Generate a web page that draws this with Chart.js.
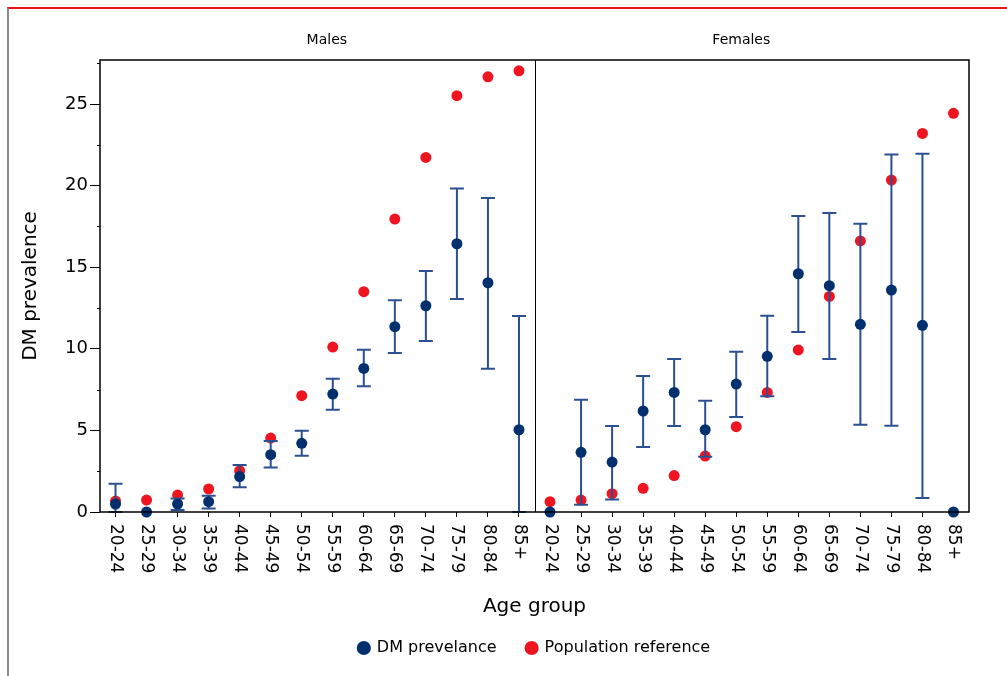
<!DOCTYPE html>
<html lang="en">
<head>
<meta charset="UTF-8">
<title>DM prevalence by age group</title>
<script src="https://cdn.jsdelivr.net/npm/chart.js"></script>
<style>
    body {
        margin: 0;
        background: #fff;
    }
    #wrap {
        position: relative;
        width: 1007px;
        height: 676px;
        overflow: hidden;
    }
    #frame {
        position: absolute;
        left: 7px;
        top: 7px;
        width: 1010px;
        height: 700px;
        border-top: 2px solid #e8121c;
        border-left: 2px solid #8c8c8c;
        pointer-events: none;
    }
    canvas {
        position: absolute;
        left: 0;
        top: 0;
    }
</style>
</head>
<body>
<div id="wrap">
    <canvas id="dmChart" width="1007" height="676"></canvas>
    <div id="frame"></div>
</div>

<script>
// age groups, same for both panels
var ageGroups = ['20-24', '25-29', '30-34', '35-39', '40-44', '45-49', '50-54',
                 '55-59', '60-64', '65-69', '70-74', '75-79', '80-84', '85+'];
var panelTitles = ['Males', 'Females'];

// males
var maleDM    = [0.49, 0, 0.49, 0.63, 2.17, 3.51, 4.21, 7.23, 8.80, 11.36, 12.64, 16.44, 14.05, 5.04];
var maleLower = [0, null, 0.12, 0.22, 1.51, 2.72, 3.45, 6.27, 7.70, 9.74, 10.48, 13.05, 8.78, 0];
var maleUpper = [1.73, null, 0.82, 1.00, 2.88, 4.35, 4.98, 8.17, 9.95, 12.97, 14.77, 19.83, 19.24, 12.01];
var malePop   = [0.67, 0.73, 1.04, 1.41, 2.53, 4.53, 7.13, 10.11, 13.50, 17.95, 21.73, 25.51, 26.67, 27.04];

// females
var femaleDM    = [0, 3.66, 3.06, 6.19, 7.33, 5.04, 7.84, 9.54, 14.60, 13.87, 11.50, 13.60, 11.44, 0];
var femaleLower = [null, 0.45, 0.76, 3.98, 5.27, 3.39, 5.82, 7.09, 11.03, 9.37, 5.35, 5.29, 0.86, null];
var femaleUpper = [null, 6.88, 5.27, 8.33, 9.37, 6.82, 9.82, 12.03, 18.14, 18.32, 17.67, 21.91, 21.95, null];
var femalePop   = [0.63, 0.73, 1.12, 1.45, 2.23, 3.43, 5.23, 7.33, 9.93, 13.21, 16.61, 20.34, 23.20, 24.43];

var yMax = 27.7;
var yStep = 5;

var navy = '#022f6e';
var red = '#ee1520';
var barColor = '#2a5093';

var labels = ageGroups.concat(ageGroups);
var dmData = maleDM.concat(femaleDM);
var lowerData = maleLower.concat(femaleLower);
var upperData = maleUpper.concat(femaleUpper);
var popData = malePop.concat(femalePop);

var fontFamily = '"DejaVu Sans", Verdana, sans-serif';

// error bars go between the red and the blue points
var errorBars = {
    id: 'errorBars',
    beforeDatasetDraw: function (chart, args) {
        if (args.index !== 0) return;
        var ctx = chart.ctx, x = chart.scales.x, y = chart.scales.y;
        ctx.save();
        ctx.strokeStyle = barColor;
        ctx.lineWidth = 2;
        for (var i = 0; i < dmData.length; i++) {
            if (lowerData[i] == null || upperData[i] == null) continue;
            var px = x.getPixelForValue(i);
            var top = y.getPixelForValue(upperData[i]);
            var bot = y.getPixelForValue(lowerData[i]);
            ctx.beginPath();
            ctx.moveTo(px, top); ctx.lineTo(px, bot);
            ctx.moveTo(px - 7, top); ctx.lineTo(px + 7, top);
            ctx.moveTo(px - 7, bot); ctx.lineTo(px + 7, bot);
            ctx.stroke();
        }
        ctx.restore();
    }
};

// frame, panel divider, panel titles, minor ticks, rotated x labels
var panels = {
    id: 'panels',
    afterDraw: function (chart) {
        var ctx = chart.ctx, area = chart.chartArea, x = chart.scales.x, y = chart.scales.y;
        ctx.save();
        ctx.strokeStyle = '#000';
        ctx.lineWidth = 1.5;
        ctx.strokeRect(area.left, area.top, area.right - area.left, area.bottom - area.top);

        var mid = (x.getPixelForValue(ageGroups.length - 1) + x.getPixelForValue(ageGroups.length)) / 2;
        ctx.lineWidth = 1;
        ctx.beginPath();
        ctx.moveTo(Math.round(mid) + 0.5, area.top);
        ctx.lineTo(Math.round(mid) + 0.5, area.bottom);
        ctx.stroke();

        // minor y ticks
        ctx.lineWidth = 1;
        ctx.beginPath();
        for (var v = yStep / 2; v < yMax; v += yStep) {
            var py = Math.round(y.getPixelForValue(v)) + 0.5;
            ctx.moveTo(area.left - 3, py);
            ctx.lineTo(area.left, py);
        }
        ctx.stroke();

        // panel titles
        ctx.fillStyle = '#000';
        ctx.font = '14px ' + fontFamily;
        ctx.textAlign = 'center';
        ctx.textBaseline = 'alphabetic';
        var w = area.right - area.left;
        ctx.fillText(panelTitles[0], area.left + w * 0.261, area.top - 16);
        ctx.fillText(panelTitles[1], area.left + w * 0.738, area.top - 16);

        // x tick labels, reading top to bottom
        ctx.font = '17px ' + fontFamily;
        ctx.textAlign = 'left';
        ctx.textBaseline = 'middle';
        for (var i = 0; i < labels.length; i++) {
            ctx.save();
            ctx.translate(x.getPixelForTick(i), area.bottom + 12);
            ctx.rotate(Math.PI / 2);
            ctx.fillText(labels[i], 0, 0);
            ctx.restore();
        }
        ctx.restore();
    }
};

var ctxDM = document.getElementById('dmChart').getContext('2d');
var dmChart = new Chart(ctxDM, {
    type: 'line',
    data: {
        labels: labels,
        datasets: [{
            label: 'DM prevelance',
            data: dmData,
            showLine: false,
            pointStyle: 'circle',
            pointRadius: 5.5,
            pointHoverRadius: 5.5,
            pointBorderWidth: 0,
            backgroundColor: navy,
            borderColor: navy,
            clip: false
        }, {
            label: 'Population reference',
            data: popData,
            showLine: false,
            pointStyle: 'circle',
            pointRadius: 5.5,
            pointHoverRadius: 5.5,
            pointBorderWidth: 0,
            backgroundColor: red,
            borderColor: red,
            clip: false
        }]
    },
    options: {
        responsive: false,
        animation: false,
        layout: {
            padding: { left: 15, top: 60, right: 38, bottom: 10 }
        },
        plugins: {
            tooltip: { enabled: false },
            legend: {
                position: 'bottom',
                fullSize: false,
                labels: {
                    usePointStyle: true,
                    boxWidth: 10,
                    boxHeight: 10,
                    padding: 30,
                    color: '#000',
                    font: { family: fontFamily, size: 16 }
                }
            }
        },
        scales: {
            x: {
                type: 'category',
                offset: true,
                grid: {
                    display: true,
                    drawOnChartArea: false,
                    drawTicks: true,
                    tickLength: 5,
                    color: '#000'
                },
                border: { display: false },
                ticks: { display: false },
                title: {
                    display: true,
                    text: 'Age group',
                    color: '#000',
                    font: { family: fontFamily, size: 20 },
                    padding: { top: 0, bottom: -9 }
                },
                afterFit: function (scale) {
                    scale.height = 98;
                }
            },
            y: {
                min: 0,
                max: yMax,
                grid: {
                    display: true,
                    drawOnChartArea: false,
                    drawTicks: true,
                    tickLength: 10,
                    color: '#000'
                },
                border: { display: false },
                ticks: {
                    stepSize: yStep,
                    includeBounds: false,
                    padding: 2,
                    color: '#000',
                    font: { family: fontFamily, size: 18 }
                },
                title: {
                    display: true,
                    text: 'DM prevalence',
                    color: '#000',
                    font: { family: fontFamily, size: 20 },
                    padding: { top: 4, bottom: 4 }
                },
                afterFit: function (scale) {
                    scale.width = 85;
                }
            }
        }
    },
    plugins: [errorBars, panels]
});
</script>
</body>
</html>
